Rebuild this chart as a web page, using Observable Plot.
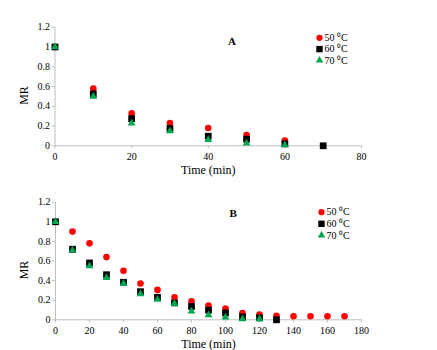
<!DOCTYPE html>
<html>
<head>
<meta charset="utf-8">
<script src="https://cdn.jsdelivr.net/npm/d3@7"></script>
<script src="https://cdn.jsdelivr.net/npm/@observablehq/plot@0.6"></script>
<style>
  html, body { margin: 0; padding: 0; background: #fff; }
  #charts { width: 437px; }
  #charts svg { display: block; }
</style>
</head>
<body>
<div id="charts"></div>
<script>
// Moisture ratio (MR) versus drying time at three air temperatures.
const seriesLabels = ["50 ⁰C", "60 ⁰C", "70 ⁰C"];
const seriesColors = ["#ff0000", "#000000", "#00a550"];
const seriesSymbols = ["circle", "square", "triangle"];
const seriesRadius = [3.3, 3.8, 2.9];

// Panel A
const timeA = [0, 10, 20, 30, 40, 50, 60, 70];
const mrA50 = [1, 0.58, 0.33, 0.23, 0.18, 0.11, 0.054];
const mrA60 = [1, 0.525, 0.275, 0.175, 0.097, 0.067, 0.02, 0];
const mrA70 = [1, 0.50, 0.228, 0.15, 0.062, 0.026, 0.008];
const xTicksA = [0, 20, 40, 60, 80];

// Panel B
const timeB = [0, 10, 20, 30, 40, 50, 60, 70, 80, 90, 100, 110, 120, 130, 140, 150, 160, 170];
const mrB50 = [1, 0.90, 0.78, 0.64, 0.50, 0.37, 0.305, 0.23, 0.19, 0.145, 0.115, 0.068, 0.054, 0.04, 0.036, 0.036, 0.036, 0.036];
const mrB60 = [1, 0.72, 0.58, 0.46, 0.383, 0.287, 0.23, 0.172, 0.136, 0.098, 0.07, 0.03, 0.02, 0];
const mrB70 = [1, 0.71, 0.55, 0.43, 0.37, 0.264, 0.206, 0.165, 0.088, 0.05, 0.027, 0.008, 0.008];
const xTicksB = [0, 20, 40, 60, 80, 100, 120, 140, 160, 180];

const yTicks = [0, 0.2, 0.4, 0.6, 0.8, 1, 1.2];

const serif = "'Liberation Serif', 'Times New Roman', serif";
const toRows = (times, values) => values.map((mr, i) => ({t: times[i], mr}));

function panel({letter, times, series, xMax, xTicks, margins, legend, letterPos}) {
  const axisGray = "#bfbfbf";
  const marks = [
    Plot.ruleY([0], {x1: 0, x2: xMax, stroke: axisGray}),
    Plot.ruleX([0], {y1: 0, y2: 1.2, stroke: axisGray}),
    Plot.axisX({ticks: xTicks, tickSize: 3, tickPadding: 4, stroke: axisGray, fill: "#000", label: null, fontSize: 10, fontFamily: serif}),
    Plot.axisY({ticks: yTicks, tickSize: 3, tickPadding: 2, stroke: axisGray, fill: "#000", label: null, fontSize: 10, fontFamily: serif, tickFormat: d3.format("~g")}),
    Plot.text(["Time (min)"], {frameAnchor: "bottom", dy: 24.5, fontSize: 12, fill: "#000", lineAnchor: "middle", textAnchor: "middle", fontFamily: serif}),
    Plot.text(["MR"], {frameAnchor: "left", dx: -31, dy: 9, rotate: -90, fontSize: 12, fill: "#000", textAnchor: "middle", lineAnchor: "middle", fontFamily: serif}),
    Plot.text([letter], {frameAnchor: "top-left", dx: letterPos[0], dy: letterPos[1], fontSize: 11, fontWeight: "bold", fill: "#000", textAnchor: "middle", lineAnchor: "middle", fontFamily: serif})
  ];
  series.forEach((values, i) => {
    marks.push(Plot.dot(toRows(times, values), {
      x: "t", y: "mr", symbol: seriesSymbols[i], fill: seriesColors[i], r: seriesRadius[i]
    }));
  });
  seriesLabels.forEach((label, i) => {
    const dy = legend.dy + i * legend.gap;
    marks.push(Plot.dot([label], {frameAnchor: "top-left", dx: legend.dx, dy, symbol: seriesSymbols[i], fill: seriesColors[i], r: seriesRadius[i] * 0.95}));
    marks.push(Plot.text([label], {frameAnchor: "top-left", dx: legend.dx + 5, dy, text: d => d, textAnchor: "start", lineAnchor: "middle", fontSize: 10, fill: "#000", fontFamily: serif}));
  });
  return Plot.plot({
    width: 437,
    height: 175,
    ...margins,
    x: {domain: [0, xMax]},
    y: {domain: [0, 1.2]},
    style: {fontFamily: serif, fontSize: "10px", background: "#fff", color: "#000", overflow: "visible"},
    marks
  });
}

const root = document.getElementById("charts");
root.append(panel({
  letter: "A",
  times: timeA,
  series: [mrA50, mrA60, mrA70],
  xMax: 80,
  xTicks: xTicksA,
  margins: {marginLeft: 54.5, marginRight: 76, marginTop: 26.7, marginBottom: 29.7},
  legend: {dx: 264.5, dy: 10.6, gap: 11.3},
  letterPos: [177, 14]
}));
root.append(panel({
  letter: "B",
  times: timeB,
  series: [mrB50, mrB60, mrB70],
  xMax: 180,
  xTicks: xTicksB,
  margins: {marginLeft: 55, marginRight: 76, marginTop: 26.7, marginBottom: 30.7},
  legend: {dx: 266, dy: 10, gap: 11.6},
  letterPos: [177.7, 11.6]
}));
</script>
</body>
</html>
